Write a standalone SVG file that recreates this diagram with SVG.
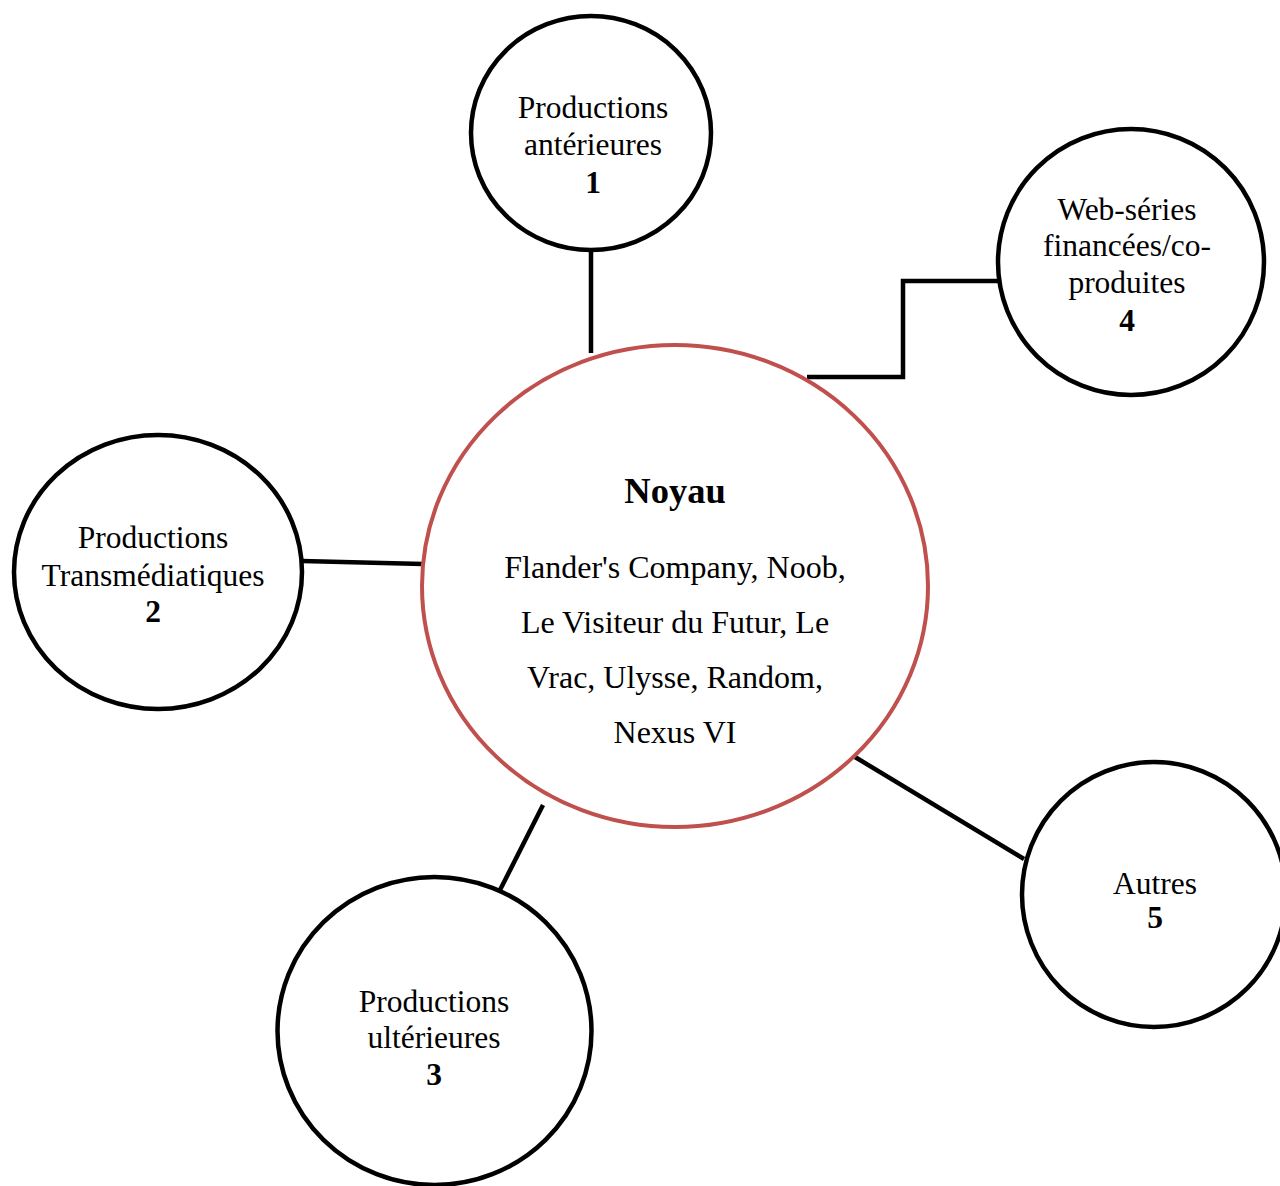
<svg xmlns="http://www.w3.org/2000/svg" width="1280" height="1186" viewBox="0 0 1280 1186">
<style>
.n{fill:#fff;stroke:#000;stroke-width:4.5}
.c{fill:#fff;stroke:#C0504D;stroke-width:4}
.l{fill:none;stroke:#000;stroke-width:4.5}
text{font-family:"Liberation Serif","Times New Roman",serif;font-size:31.5px;fill:#000;text-anchor:middle}
.b{font-weight:bold}
.m{font-size:32px}
</style>
<rect width="1280" height="1186" fill="#fff"/>
<g id="connectors">
<line class="l" x1="591" y1="250" x2="591" y2="353"/>
<line class="l" x1="302" y1="561" x2="423" y2="564"/>
<line class="l" x1="543" y1="805" x2="500" y2="890"/>
<line class="l" x1="855" y1="757" x2="1024" y2="859"/>
<polyline class="l" points="807,377 903,377 903,281 999,281"/>
</g>
<g id="node-noyau">
<ellipse class="c" cx="675" cy="586" rx="253" ry="241"/>
<text class="b" x="675" y="503" style="font-size:36.5px">Noyau</text>
<text class="m" x="675" y="578">Flander's Company, Noob,</text>
<text class="m" x="675" y="633">Le Visiteur du Futur, Le</text>
<text class="m" x="675" y="688">Vrac, Ulysse, Random,</text>
<text class="m" x="675" y="743">Nexus VI</text>
</g>
<g id="node-1">
<ellipse class="n" cx="591" cy="133" rx="120" ry="117"/>
<text x="593" y="118">Productions</text>
<text x="593" y="155">antérieures</text>
<text class="b" x="593" y="193">1</text>
</g>
<g id="node-2">
<ellipse class="n" cx="158" cy="572" rx="144" ry="137"/>
<text x="153" y="548">Productions</text>
<text x="153" y="586">Transmédiatiques</text>
<text class="b" x="153" y="622">2</text>
</g>
<g id="node-3">
<ellipse class="n" cx="434.5" cy="1031" rx="157" ry="154"/>
<text x="434" y="1012">Productions</text>
<text x="434" y="1048">ultérieures</text>
<text class="b" x="434" y="1085">3</text>
</g>
<g id="node-4">
<ellipse class="n" cx="1131" cy="262" rx="133" ry="133"/>
<text x="1127" y="220">Web-séries</text>
<text x="1127" y="256">financées/co-</text>
<text x="1127" y="293">produites</text>
<text class="b" x="1127" y="331">4</text>
</g>
<g id="node-5">
<ellipse class="n" cx="1154" cy="894.5" rx="132" ry="132.5"/>
<text x="1155" y="894">Autres</text>
<text class="b" x="1155" y="928">5</text>
</g>
</svg>
